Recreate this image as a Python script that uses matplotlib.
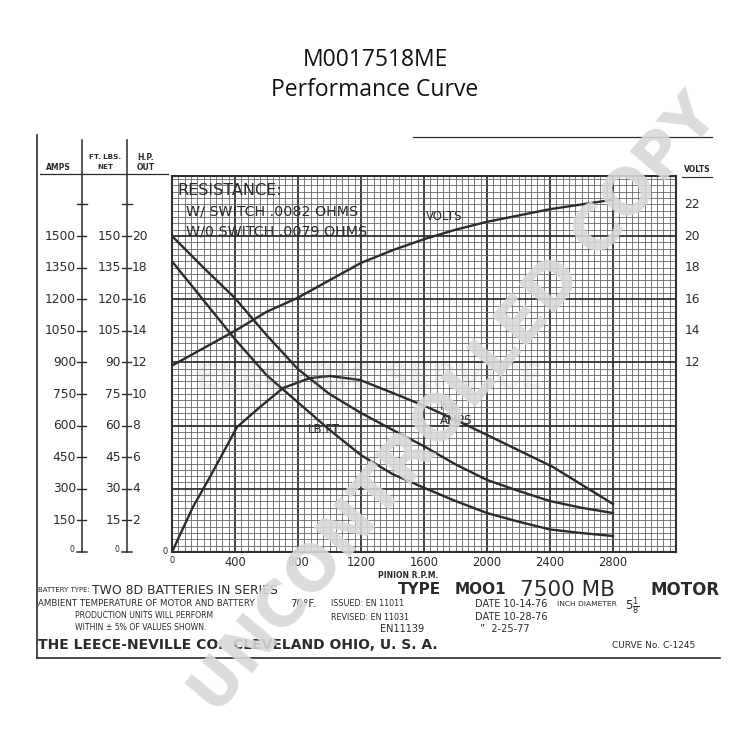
import matplotlib
matplotlib.use("Agg")
import matplotlib.pyplot as plt
import numpy as np
from matplotlib.transforms import blended_transform_factory

# ---------------- data ----------------
rpm_amps = [0, 200, 400, 600, 800, 1000, 1200, 1400, 1600, 1800, 2000, 2200, 2400, 2600, 2800]
amps = [1500, 1350, 1205, 1030, 868, 750, 660, 580, 502, 416, 342, 290, 242, 210, 185]

rpm_torque = [0, 200, 400, 600, 800, 1000, 1200, 1400, 1600, 1800, 2000, 2200, 2400, 2600, 2800]
torque = [138, 119.5, 101, 84, 71, 58, 46, 37, 30.5, 24.2, 18.5, 14.4, 10.7, 9.0, 7.6]

rpm_hp = [0, 133, 241, 413, 559, 705, 876, 1003, 1194, 1403, 1619, 1829, 2000, 2419, 2800]
hp = [0, 2.85, 4.75, 7.91, 9.18, 10.38, 11.01, 11.14, 10.89, 10.06, 9.18, 8.23, 7.41, 5.38, 3.04]

rpm_volts = [0, 200, 400, 600, 800, 1000, 1200, 1400, 1600, 1800, 2000, 2200, 2400, 2600, 2800]
volts = [11.8, 12.9, 14.0, 15.2, 16.1, 17.2, 18.3, 19.1, 19.8, 20.4, 20.9, 21.3, 21.7, 22.0, 22.3]

amp_ticks = [150, 300, 450, 600, 750, 900, 1050, 1200, 1350, 1500]
ftlb_ticks = [15, 30, 45, 60, 75, 90, 105, 120, 135, 150]
hp_ticks = [2, 4, 6, 8, 10, 12, 14, 16, 18, 20]
volt_ticks = [12, 14, 16, 18, 20, 22]
rpm_ticks = [0, 400, 800, 1200, 1600, 2000, 2400, 2800]

AMPS_PER_UNIT = 75.0
FTLB_PER_UNIT = 7.5

INK = "#2b2b2b"
FONT = "DejaVu Sans"
plt.rcParams["font.family"] = [FONT]

fig = plt.figure(figsize=(7.5, 7.5), dpi=100)
bg = fig.add_axes([0, 0, 1, 1])
bg.set_xlim(0, 750)
bg.set_ylim(750, 0)
bg.axis("off")

# main grid axes
L, R, T, B = 172, 676, 176, 552
ax = fig.add_axes([L / 750, 1 - B / 750, (R - L) / 750, (B - T) / 750])
ax.set_xlim(0, 3200)
ax.set_ylim(0, 23.8)
ax.set_xticks(np.arange(0, 3201, 400))
ax.set_xticks(np.arange(0, 3201, 40), minor=True)
ax.set_yticks(np.arange(0, 23.9, 4))
ax.set_yticks(np.arange(0, 23.9, 0.4), minor=True)
ax.tick_params(which="both", length=0, labelbottom=False, labelleft=False)
ax.grid(which="minor", color="#666666", lw=0.6)
ax.grid(which="major", color="#303030", lw=1.3)
ax.set_axisbelow(True)
for s in ax.spines.values():
    s.set_color("#303030")
    s.set_linewidth(1.5)

# curves
ax.plot(rpm_amps, np.array(amps) / AMPS_PER_UNIT, color=INK, lw=1.7, zorder=3)
ax.plot(rpm_torque, np.array(torque) / FTLB_PER_UNIT, color=INK, lw=1.7, zorder=3)
ax.plot(rpm_hp, hp, color=INK, lw=1.7, zorder=3)
ax.plot(rpm_volts, volts, color=INK, lw=1.7, zorder=3)

# curve labels
ax.text(1610, 21.0, "VOLTS", fontsize=8.5, color=INK, zorder=4)
ax.text(1700, 9.0, "h.p.", fontsize=8.5, color=INK, zorder=4)
ax.text(1700, 8.1, "AMPS", fontsize=8.5, color=INK, zorder=4)
ax.text(860, 7.55, "LB.FT.", fontsize=8.5, color=INK, zorder=4)

# resistance note
ax.text(35, 22.9, "RESISTANCE:", fontsize=11.5, color=INK, va="center", zorder=4)
ax.text(90, 21.55, "W/ SWITCH .0082 OHMS", fontsize=10.3, color=INK, va="center", zorder=4)
ax.text(90, 20.3, "W/0 SWITCH .0079 OHMS", fontsize=10.3, color=INK, va="center", zorder=4)

# x tick labels
for v in rpm_ticks:
    ax.annotate(str(v), xy=(v, 0), xycoords=("data", "axes fraction"),
                xytext=(0, -3), textcoords="offset points", ha="center", va="top",
                fontsize=6 if v == 0 else 8.3, color=INK)
ax.annotate("PINION R.P.M.", xy=(1500, 0), xycoords=("data", "axes fraction"),
            xytext=(0, -14), textcoords="offset points", ha="center", va="top",
            fontsize=5.5, fontweight="bold", color=INK)
ax.annotate("0", xy=(0, 0), xycoords=("axes fraction", "data"), xytext=(-3, 0),
            textcoords="offset points", ha="right", va="center", fontsize=6, color=INK)

# right volts labels
for v in volt_ticks:
    ax.annotate(str(v), xy=(1, v), xycoords=("axes fraction", "data"), xytext=(6, 0),
                textcoords="offset points", ha="left", va="center", fontsize=8.8, color=INK)

# left scales (x in figure pixels, y in data units)
tr = blended_transform_factory(bg.transData, ax.transData)
x_amp, x_ft = 82, 127
top_units = (552 - 141) / 15.75
for xl in (x_amp, x_ft):
    bg.plot([xl, xl], [0, top_units], transform=tr, color=INK, lw=1.1)
    bg.plot([xl - 5, xl + 5], [0, 0], transform=tr, color=INK, lw=1.1)
    bg.plot([xl - 5, xl + 5], [22, 22], transform=tr, color=INK, lw=1.0)
for a in amp_ticks:
    u = a / AMPS_PER_UNIT
    bg.plot([x_amp - 5, x_amp + 4], [u, u], transform=tr, color=INK, lw=1.0)
    bg.text(x_amp - 6, u, str(a), transform=tr, ha="right", va="center", fontsize=8.8, color=INK)
for f in ftlb_ticks:
    u = f / FTLB_PER_UNIT
    bg.text(x_ft - 6, u, str(f), transform=tr, ha="right", va="center", fontsize=8.8, color=INK)
for h in hp_ticks:
    bg.plot([x_ft - 5, x_ft + 4], [h, h], transform=tr, color=INK, lw=1.0)
    bg.text(x_ft + 5, h, str(h), transform=tr, ha="left", va="center", fontsize=8.8, color=INK)
bg.text(x_amp - 8, 0.15, "0", transform=tr, ha="right", va="center", fontsize=5.5, color=INK)
bg.text(x_ft - 8, 0.15, "0", transform=tr, ha="right", va="center", fontsize=5.5, color=INK)

# headers and frame lines
bg.text(58, 168, "AMPS", ha="center", va="center", fontsize=5.5, fontweight="bold", color=INK)
bg.text(105, 157, "FT. LBS.", ha="center", va="center", fontsize=5.2, fontweight="bold", color=INK)
bg.text(105, 167, "NET", ha="center", va="center", fontsize=5.2, fontweight="bold", color=INK)
bg.text(146, 157, "H.P.", ha="center", va="center", fontsize=5.5, fontweight="bold", color=INK)
bg.text(146, 167, "OUT", ha="center", va="center", fontsize=5.5, fontweight="bold", color=INK)
bg.text(697, 170, "VOLTS", ha="center", va="center", fontsize=5.5, fontweight="bold", color=INK)
bg.plot([40, 168], [174, 174], color=INK, lw=0.9)
bg.plot([682, 712], [177, 177], color=INK, lw=0.8)
bg.plot([413, 712], [137, 137], color=INK, lw=0.9)
bg.plot([37, 37], [135, 658], color=INK, lw=1.2)
bg.plot([37, 720], [658, 658], color=INK, lw=1.2)

# title
bg.text(375, 60, "M0017518ME", ha="center", va="center", fontsize=16.5, family="Open Sans", color="#111")
bg.text(375, 90, "Performance Curve", ha="center", va="center", fontsize=16.5, family="Open Sans", color="#111")

# bottom info block
bg.text(38, 590, "BATTERY TYPE:", fontsize=5, va="center", color=INK)
bg.text(92, 590, "TWO 8D BATTERIES IN SERIES", fontsize=8.9, va="center", color=INK)
bg.text(398, 590, "TYPE", fontsize=11, fontweight="bold", va="center", color=INK)
bg.text(455, 590, "MOO1", fontsize=11, fontweight="bold", va="center", color=INK)
bg.text(520, 590, "7500 MB", fontsize=15.5, va="center", color=INK)
bg.text(650, 590, "MOTOR", fontsize=12, fontweight="bold", va="center", color=INK)
bg.text(38, 604, "AMBIENT TEMPERATURE OF MOTOR AND BATTERY", fontsize=6.2, va="center", color=INK)
bg.text(290, 604, "70°F.", fontsize=7.5, va="center", color=INK)
bg.text(331, 604, "ISSUED: EN 11011", fontsize=5.8, va="center", color=INK)
bg.text(475, 604, "DATE 10-14-76", fontsize=7, va="center", color=INK)
bg.text(557, 604, "INCH DIAMETER", fontsize=5.4, va="center", color=INK)
bg.text(625, 606, r"5$\frac{1}{8}$", fontsize=8.5, va="center", color=INK)
bg.text(75, 616, "PRODUCTION UNITS WILL PERFORM", fontsize=5.6, va="center", color=INK)
bg.text(331, 617, "REVISED: EN 11031", fontsize=5.8, va="center", color=INK)
bg.text(475, 617, "DATE 10-28-76", fontsize=7, va="center", color=INK)
bg.text(75, 628, "WITHIN ± 5% OF VALUES SHOWN.", fontsize=5.6, va="center", color=INK)
bg.text(380, 629, "EN11139", fontsize=7, va="center", color=INK)
bg.text(480, 629, "\u201d  2-25-77", fontsize=7, va="center", color=INK)
bg.text(38, 645, "THE LEECE-NEVILLE CO.  CLEVELAND OHIO, U. S. A.", fontsize=10,
        fontweight="bold", va="center", color=INK)
bg.text(612, 645, "CURVE No. C-1245", fontsize=6.5, va="center", color=INK)

# watermarks (figure-level so they sit above the grid axes)
fig.text(370, 378, "ELECTRIC SERVICE", transform=bg.transData, ha="center", va="center",
         fontsize=24, fontweight="bold", color="#888", alpha=0.13, zorder=9)
fig.text(455, 405, "UNCONTROLLED COPY", transform=bg.transData, ha="center", va="center",
         rotation=50, rotation_mode="anchor", fontsize=45, fontweight="bold",
         color="#d8d8d8", alpha=0.9, zorder=10)

fig.savefig("out.png", dpi=100)
